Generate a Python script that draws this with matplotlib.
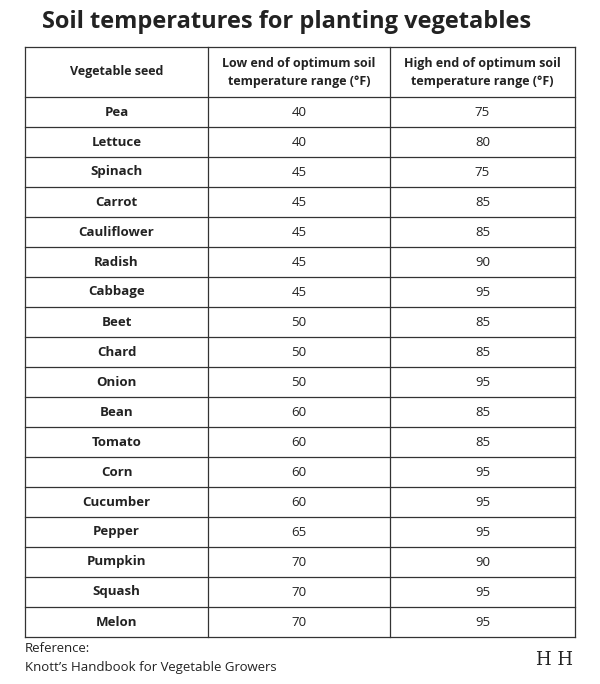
import matplotlib
matplotlib.use("Agg")
import matplotlib.pyplot as plt

# table data
vegetables = ["Pea", "Lettuce", "Spinach", "Carrot", "Cauliflower", "Radish", "Cabbage",
              "Beet", "Chard", "Onion", "Bean", "Tomato", "Corn", "Cucumber", "Pepper",
              "Pumpkin", "Squash", "Melon"]
low_temps = [40, 40, 45, 45, 45, 45, 45, 50, 50, 50, 60, 60, 60, 60, 65, 70, 70, 70]
high_temps = [75, 80, 75, 85, 85, 90, 95, 85, 85, 95, 85, 85, 95, 95, 95, 90, 95, 95]
headers = ["Vegetable seed",
           "Low end of optimum soil\ntemperature range (°F)",
           "High end of optimum soil\ntemperature range (°F)"]

plt.rcParams["font.family"] = "Open Sans"
fig = plt.figure(figsize=(6, 6.84), dpi=100)
ax = fig.add_axes([0, 0, 1, 1])
ax.set_xlim(0, 600)
ax.set_ylim(684, 0)
ax.axis("off")

col_x = [25, 208, 390, 575]
top, head_bot, row_h = 47, 97, 30
n = len(vegetables)
bottom = head_bot + n * row_h
line_kw = dict(color="#333333", lw=0.9)

# grid lines
for x in col_x:
    ax.plot([x, x], [top, bottom], **line_kw)
for y in [top, head_bot] + [head_bot + (i + 1) * row_h for i in range(n)]:
    ax.plot([col_x[0], col_x[-1]], [y, y], **line_kw)

centers = [(col_x[i] + col_x[i + 1]) / 2 for i in range(3)]
for c, h in zip(centers, headers):
    ax.text(c, (top + head_bot) / 2, h, ha="center", va="center", fontsize=9,
            fontweight="bold", color="#222222", linespacing=1.5)

for i, (v, lo, hi) in enumerate(zip(vegetables, low_temps, high_temps)):
    y = head_bot + (i + 0.5) * row_h
    ax.text(centers[0], y, v, ha="center", va="center", fontsize=9.5, fontweight="bold", color="#222222")
    ax.text(centers[1], y, str(lo), ha="center", va="center", fontsize=9.5, color="#222222")
    ax.text(centers[2], y, str(hi), ha="center", va="center", fontsize=9.5, color="#222222")

ax.text(287, 22, "Soil temperatures for planting vegetables", ha="center", va="center",
        fontsize=17, fontweight="bold", color="#222222")
ax.text(25, 648, "Reference:", ha="left", va="center", fontsize=9.5, color="#222222")
ax.text(25, 668, "Knott’s Handbook for Vegetable Growers", ha="left", va="center",
        fontsize=9.5, color="#222222")
ax.text(555, 660, "H H", ha="center", va="center", fontsize=13, family="DejaVu Serif", color="#222222")

fig.savefig("out.png", dpi=100, facecolor="white")
